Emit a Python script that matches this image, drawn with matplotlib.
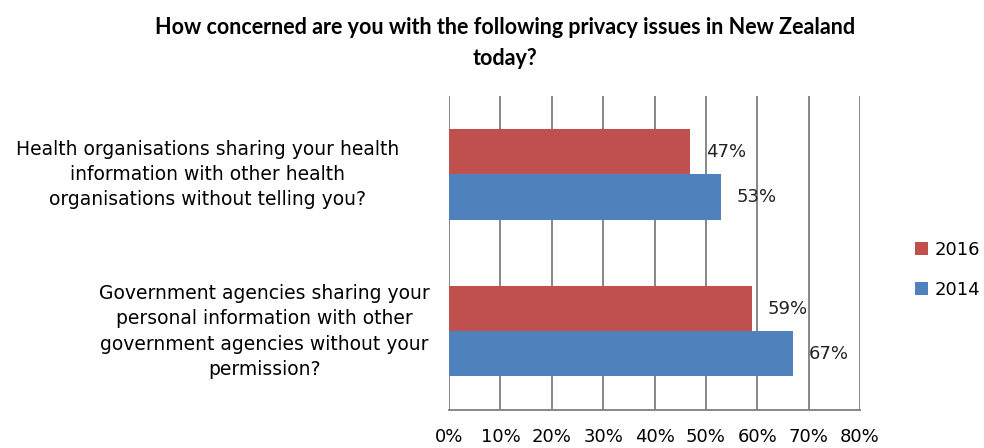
import matplotlib
matplotlib.use('Agg')
import matplotlib.pyplot as plt
import matplotlib.transforms as mtransforms
import numpy as np

TITLE = 'How concerned are you with the following privacy issues in New Zealand\ntoday?'
categories = [
    'Health organisations sharing your health\ninformation with other health\norganisations without telling you?',
    'Government agencies sharing your\npersonal information with other\ngovernment agencies without your\npermission?',
]
years = ['2016', '2014']
values_2016 = [47, 59]
values_2014 = [53, 67]
xticks = [0, 10, 20, 30, 40, 50, 60, 70, 80]

RED = '#C0504D'
BLUE = '#4F81BD'
GRID = '#878787'

plt.rcParams['font.family'] = ['DejaVu Sans']

fig = plt.figure(figsize=(9.84, 4.48), dpi=100)
ax = fig.add_axes([0.4563, 0.085, 0.874 - 0.4563, 0.7857 - 0.085])

y = np.arange(len(categories))
h = 0.287
b16 = ax.barh(y - h / 2, values_2016, height=h, color=RED, label=years[0], zorder=3)
b14 = ax.barh(y + h / 2, values_2014, height=h, color=BLUE, label=years[1], zorder=3)

for bars, vals in ((b16, values_2016), (b14, values_2014)):
    ax.bar_label(bars, labels=[f'{v}%' for v in vals], padding=11, fontsize=13,
                 color='#222222')

ax.set_xlim(0, 80)
ax.set_ylim(len(categories) - 0.5, -0.5)
ax.set_xticks(xticks)
ax.set_xticklabels([f'{t}%' for t in xticks], fontsize=13)
ax.set_yticks(y)
ax.set_yticklabels(categories, fontsize=13.5, multialignment='center', linespacing=1.42,
                   va='center')
ax.tick_params(axis='both', length=0)
ax.tick_params(axis='x', pad=13)
ax.tick_params(axis='y', pad=14)

# first category label sits a bit further left in the original
lab0 = ax.get_yticklabels()[0]
lab0.set_transform(lab0.get_transform() + mtransforms.ScaledTranslation(-0.30, 0, fig.dpi_scale_trans))

ax.grid(axis='x', color=GRID, linewidth=1.4, zorder=0)
for side in ('top', 'left', 'right'):
    ax.spines[side].set_visible(False)
ax.spines['bottom'].set_color(GRID)
ax.spines['bottom'].set_linewidth(1.4)

fig.text(0.513, 0.962, TITLE, ha='center', va='top', fontsize=15.5,
         fontweight='bold', family=['Lato', 'DejaVu Sans'], linespacing=1.6)

leg = fig.legend(loc='center left', bbox_to_anchor=(0.913, 0.398), frameon=False,
                 fontsize=13, handlelength=0.75, handleheight=0.75, handletextpad=0.35,
                 labelspacing=1.2)

fig.savefig('out.png', dpi=100)
